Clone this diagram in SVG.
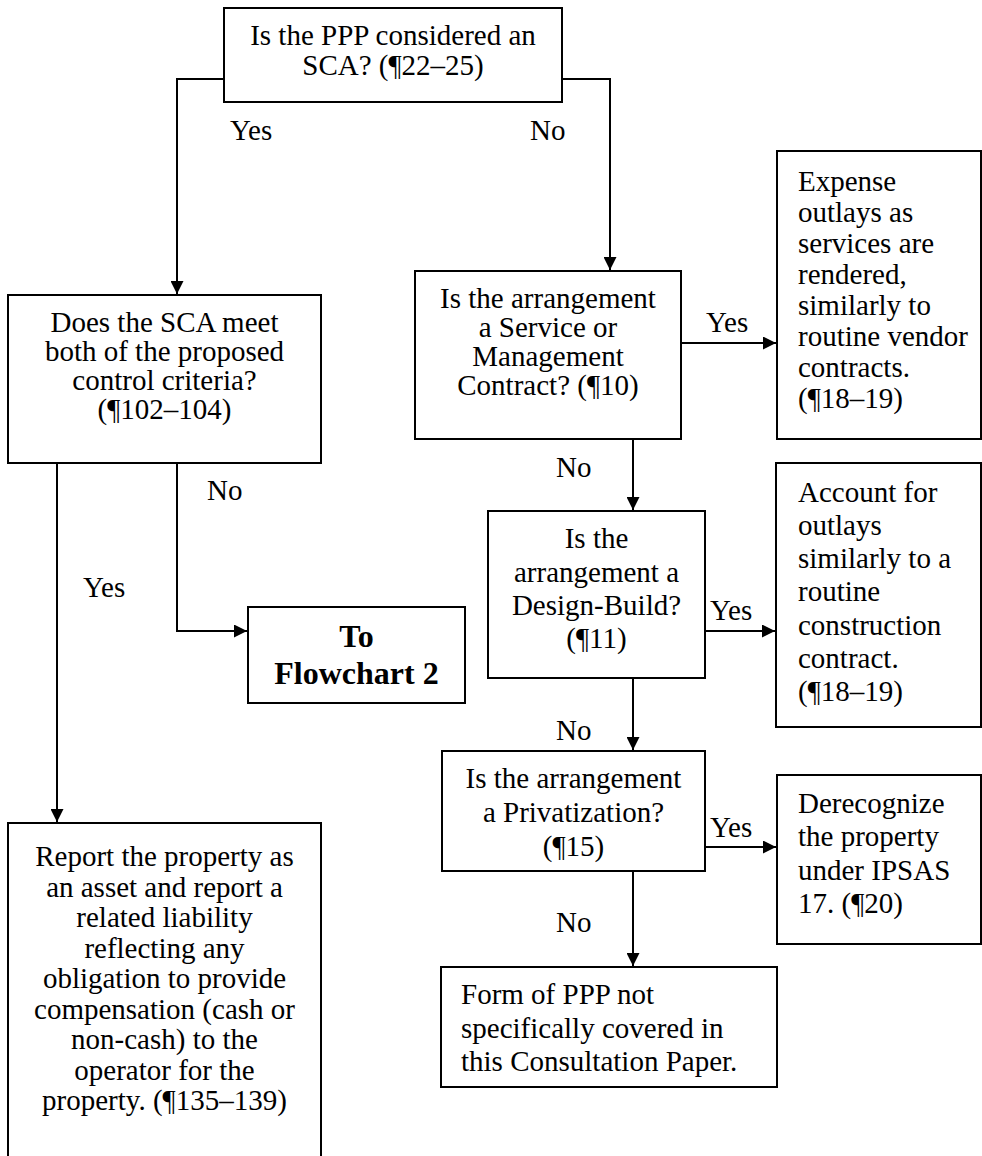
<svg xmlns="http://www.w3.org/2000/svg" width="982" height="1156" viewBox="0 0 982 1156">
<style>
.box{fill:#fff;stroke:#000;stroke-width:2}
.t{font-family:"Liberation Serif","Times New Roman",serif;font-size:29px;fill:#000}
.c{text-anchor:middle}
.b{font-weight:bold;font-size:32px}
.conn{fill:none;stroke:#000;stroke-width:2}
</style>
<defs>
<marker id="ah" markerUnits="userSpaceOnUse" markerWidth="14" markerHeight="13" refX="13" refY="6.5" orient="auto">
<path d="M0,0 L13,6.5 L0,13 z" fill="#000"/>
</marker>
</defs>
<rect width="982" height="1156" fill="#fff"/>
<g id="connectors">
<path class="conn" d="M224,79 H177 V294" marker-end="url(#ah)"/>
<path class="conn" d="M562,79 H610 V270" marker-end="url(#ah)"/>
<path class="conn" d="M177,463 V631 H247" marker-end="url(#ah)"/>
<path class="conn" d="M57,463 V822" marker-end="url(#ah)"/>
<path class="conn" d="M681,343 H776" marker-end="url(#ah)"/>
<path class="conn" d="M633,439 V510" marker-end="url(#ah)"/>
<path class="conn" d="M705,631 H775" marker-end="url(#ah)"/>
<path class="conn" d="M633,678 V750" marker-end="url(#ah)"/>
<path class="conn" d="M705,847 H776" marker-end="url(#ah)"/>
<path class="conn" d="M633,871 V966" marker-end="url(#ah)"/>
<text class="t" x="230" y="140">Yes</text>
<text class="t" x="530" y="140">No</text>
<text class="t" x="207" y="500">No</text>
<text class="t" x="83" y="597">Yes</text>
<text class="t" x="706" y="332">Yes</text>
<text class="t" x="556" y="477">No</text>
<text class="t" x="710" y="620">Yes</text>
<text class="t" x="556" y="740">No</text>
<text class="t" x="710" y="837">Yes</text>
<text class="t" x="556" y="932">No</text>
</g>
<g id="n-sca-question">
<rect class="box" x="224" y="8" width="338" height="94"/>
<text class="t c" x="393" y="45">Is the PPP considered an</text>
<text class="t c" x="393" y="75">SCA? (¶22–25)</text>
</g>
<g id="n-control">
<rect class="box" x="8" y="295" width="313" height="168"/>
<text class="t c" x="164.5" y="332">Does the SCA meet</text>
<text class="t c" x="164.5" y="361">both of the proposed</text>
<text class="t c" x="164.5" y="390">control criteria?</text>
<text class="t c" x="164.5" y="419">(¶102–104)</text>
</g>
<g id="n-flowchart2">
<rect class="box" x="248" y="607" width="217" height="96"/>
<text class="t c b" x="356.5" y="647">To</text>
<text class="t c b" x="356.5" y="684">Flowchart 2</text>
</g>
<g id="n-report">
<rect class="box" x="8" y="823" width="313" height="340"/>
<text class="t c" x="164.5" y="866">Report the property as</text>
<text class="t c" x="164.5" y="896.5">an asset and report a</text>
<text class="t c" x="164.5" y="927">related liability</text>
<text class="t c" x="164.5" y="957.5">reflecting any</text>
<text class="t c" x="164.5" y="988">obligation to provide</text>
<text class="t c" x="164.5" y="1018.5">compensation (cash or</text>
<text class="t c" x="164.5" y="1049">non-cash) to the</text>
<text class="t c" x="164.5" y="1079.5">operator for the</text>
<text class="t c" x="164.5" y="1110">property. (¶135–139)</text>
</g>
<g id="n-service">
<rect class="box" x="415" y="271" width="266" height="168"/>
<text class="t c" x="548" y="308">Is the arrangement</text>
<text class="t c" x="548" y="337">a Service or</text>
<text class="t c" x="548" y="366">Management</text>
<text class="t c" x="548" y="395">Contract? (¶10)</text>
</g>
<g id="n-expense">
<rect class="box" x="777" y="151" width="204" height="288"/>
<text class="t" x="798" y="191">Expense</text>
<text class="t" x="798" y="222">outlays as</text>
<text class="t" x="798" y="253">services are</text>
<text class="t" x="798" y="284">rendered,</text>
<text class="t" x="798" y="315">similarly to</text>
<text class="t" x="798" y="346">routine vendor</text>
<text class="t" x="798" y="377">contracts.</text>
<text class="t" x="798" y="408">(¶18–19)</text>
</g>
<g id="n-design">
<rect class="box" x="488" y="511" width="217" height="167"/>
<text class="t c" x="596.5" y="548">Is the</text>
<text class="t c" x="596.5" y="582">arrangement a</text>
<text class="t c" x="596.5" y="615">Design-Build?</text>
<text class="t c" x="596.5" y="648">(¶11)</text>
</g>
<g id="n-account">
<rect class="box" x="776" y="463" width="205" height="264"/>
<text class="t" x="798" y="502">Account for</text>
<text class="t" x="798" y="535">outlays</text>
<text class="t" x="798" y="568">similarly to a</text>
<text class="t" x="798" y="601">routine</text>
<text class="t" x="798" y="635">construction</text>
<text class="t" x="798" y="668">contract.</text>
<text class="t" x="798" y="701">(¶18–19)</text>
</g>
<g id="n-privatization">
<rect class="box" x="442" y="751" width="263" height="120"/>
<text class="t c" x="573.5" y="788">Is the arrangement</text>
<text class="t c" x="573.5" y="822">a Privatization?</text>
<text class="t c" x="573.5" y="856">(¶15)</text>
</g>
<g id="n-derecognize">
<rect class="box" x="777" y="775" width="204" height="169"/>
<text class="t" x="798" y="813">Derecognize</text>
<text class="t" x="798" y="846">the property</text>
<text class="t" x="798" y="880">under IPSAS</text>
<text class="t" x="798" y="913">17. (¶20)</text>
</g>
<g id="n-other">
<rect class="box" x="441" y="967" width="336" height="120"/>
<text class="t" x="461" y="1004">Form of PPP not</text>
<text class="t" x="461" y="1038">specifically covered in</text>
<text class="t" x="461" y="1071">this Consultation Paper.</text>
</g>
</svg>
